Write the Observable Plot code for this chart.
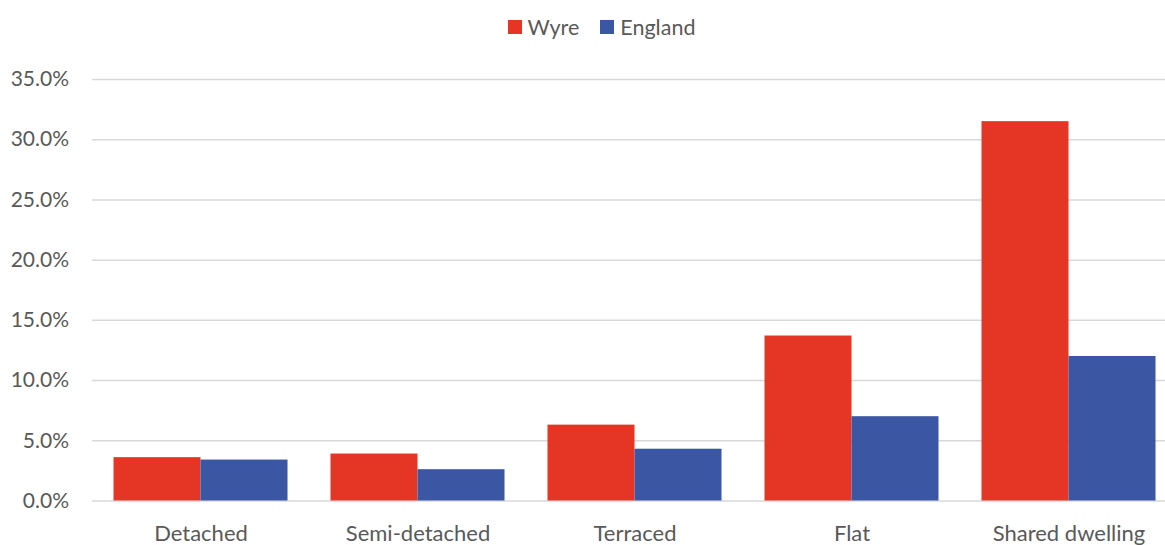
<!DOCTYPE html>
<html><head><meta charset="utf-8">
<script src="https://cdn.jsdelivr.net/npm/d3@7"></script>
<script src="https://cdn.jsdelivr.net/npm/@observablehq/plot@0.6"></script>
<style>
body{margin:0;background:#fff;font-family:Lato,sans-serif;}
#legend{height:50px;display:flex;justify-content:center;align-items:center;gap:21px;color:#595959;font-size:21.5px;padding-left:38px;box-sizing:border-box;padding-top:3px;}
#legend .item{display:flex;align-items:center;gap:6px;}
#legend .sw{width:14px;height:14px;display:inline-block;}
</style>
</head><body>
<div id="legend"></div>
<div id="chart"></div>
<script>
const categories = ["Detached","Semi-detached","Terraced","Flat","Shared dwelling"];
const series = ["Wyre","England"];
const wyre = [3.6,3.9,6.3,13.7,31.5];
const england = [3.4,2.6,4.3,7.0,12.0];
const yTicks = [0,5,10,15,20,25,30,35];
const colors = ["#E53625","#3B57A4"];

const values = {Wyre: wyre, England: england};
const data = categories.flatMap((c,i)=>series.map(s=>({category:c, series:s, value:values[s][i]})));

const legend = document.getElementById("legend");
series.forEach((s,i)=>{
  const it = document.createElement("span"); it.className="item";
  const sw = document.createElement("span"); sw.className="sw"; sw.style.background=colors[i];
  const t = document.createElement("span"); t.textContent=s;
  it.append(sw,t); legend.append(it);
});

const chart = Plot.plot({
  width:1165, height:495,
  marginTop:29, marginBottom:44.5, marginLeft:91.5, marginRight:-11.5,
  style:{fontFamily:"Lato, sans-serif", fontSize:"21px", color:"#595959", background:"#fff"},
  fx:{domain:categories, padding:0, label:null},
  x:{domain:series, paddingInner:0, paddingOuter:0.247, axis:null},
  y:{domain:[0,35], label:null},
  color:{domain:series, range:colors},
  marks:[
    Plot.ruleY(yTicks, {stroke:"#d9d9d9", strokeWidth:1.5}),
    Plot.barY(data, {fx:"category", x:"series", y:"value", fill:"series"}),
    Plot.axisY({ticks:yTicks, tickFormat:d=>d.toFixed(1)+"%", tickSize:0, tickPadding:23.5, label:null}),
    Plot.axisFx({anchor:"bottom", tickSize:0, tickPadding:24, fontSize:22, label:null})
  ]
});
document.getElementById("chart").append(chart);
</script>
</body></html>
